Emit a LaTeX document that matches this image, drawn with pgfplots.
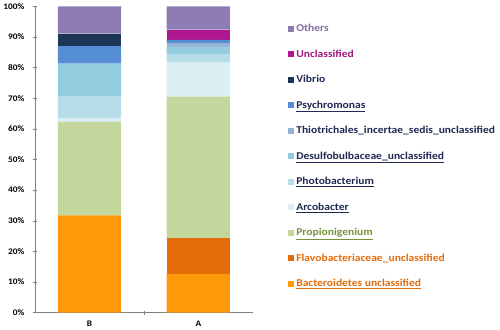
\documentclass[border=0pt]{standalone}
\usepackage{pgfplots}
\pgfplotsset{compat=1.18}
\usepackage{fontspec}
\setmainfont[FakeStretch=1.1]{Carlito}
\definecolor{cOthers}{HTML}{8E7CB5}
\definecolor{cUncl}{HTML}{B0168F}
\definecolor{cVibrio}{HTML}{1C3557}
\definecolor{cPsych}{HTML}{558ED5}
\definecolor{cThio}{HTML}{95B3D7}
\definecolor{cDesulfo}{HTML}{93CDDD}
\definecolor{cPhoto}{HTML}{B7DEE8}
\definecolor{cArco}{HTML}{DBEEF4}
\definecolor{cPropio}{HTML}{C3D69B}
\definecolor{cFlavo}{HTML}{E46C0A}
\definecolor{cBact}{HTML}{FF9A0A}
\definecolor{tNavy}{HTML}{1F2A52}
\definecolor{tOthers}{HTML}{7F6F9F}
\definecolor{tUncl}{HTML}{A0197F}
\definecolor{tPropio}{HTML}{77933C}
\definecolor{tOrange}{HTML}{E46C0A}
\begin{document}
\begin{tikzpicture}
\begin{axis}[
  scale only axis,
  width=217bp, height=305bp,
  ybar stacked,
  bar width=63bp,
  ymin=0, ymax=100,
  xmin=-0.5, xmax=1.5,
  xtick={0,1}, xticklabels={B,A},
  major x tick style={draw=none},
  minor xtick={0.5},
  minor x tick style={gray},
  minor tick length=4bp,
  ytick={0,10,...,100},
  yticklabel={\pgfmathprintnumber{\tick}\%},
  /pgf/number format/assume math mode=true,
  ticklabel style={font=\bfseries\fontsize{8.5}{10}\selectfont},
  y tick style={gray},
  major tick length=4bp,
  tick align=outside,
  axis lines=left,
  axis line style={-,gray},
  xtick pos=bottom, ytick pos=left,
  yticklabel style={xshift=-5bp},
  xticklabel style={yshift=-3bp},
  reverse legend,
  legend cell align=left,
  legend style={at={(1.148,0.51)}, anchor=west, draw=none, fill=none,
    font=\bfseries\fontsize{10.5}{12}\selectfont, row sep=12.6bp,
    /tikz/every even column/.append style={column sep=1bp}},
  legend image code/.code={\fill[#1,draw=none] (0bp,-3bp) rectangle (6bp,3bp);},
]
\addplot[fill=cBact,draw=none] coordinates {(0,31.7) (1,12.6)};
\addplot[fill=cFlavo,draw=none] coordinates {(0,0) (1,11.8)};
\addplot[fill=cPropio,draw=none] coordinates {(0,30.6) (1,46.1)};
\addplot[fill=cArco,draw=none] coordinates {(0,1.3) (1,11.1)};
\addplot[fill=cPhoto,draw=none] coordinates {(0,7.1) (1,2.9)};
\addplot[fill=cDesulfo,draw=none] coordinates {(0,10.6) (1,2.3)};
\addplot[fill=cThio,draw=none] coordinates {(0,0) (1,1.2)};
\addplot[fill=cPsych,draw=none] coordinates {(0,5.7) (1,1.0)};
\addplot[fill=cVibrio,draw=none] coordinates {(0,4.1) (1,0)};
\addplot[fill=cUncl,draw=none] coordinates {(0,0) (1,3.4)};
\addplot[fill=cOthers,draw=none] coordinates {(0,8.9) (1,7.6)};
\legend{
  \textcolor{tOrange}{\underline{Bacteroidetes unclassified}},
  \textcolor{tOrange}{Flavobacteriaceae\_unclassified},
  \textcolor{tPropio}{\underline{Propionigenium}},
  \textcolor{tNavy}{\underline{Arcobacter}},
  \textcolor{tNavy}{\underline{Photobacterium}},
  \textcolor{tNavy}{\underline{Desulfobulbaceae\_unclassified}},
  \textcolor{tNavy}{Thiotrichales\_incertae\_sedis\_unclassified},
  \textcolor{tNavy}{\underline{Psychromonas}},
  \textcolor{tNavy}{Vibrio},
  \textcolor{tUncl}{Unclassified},
  \textcolor{tOthers}{Others}
}
\end{axis}
\end{tikzpicture}
\end{document}
